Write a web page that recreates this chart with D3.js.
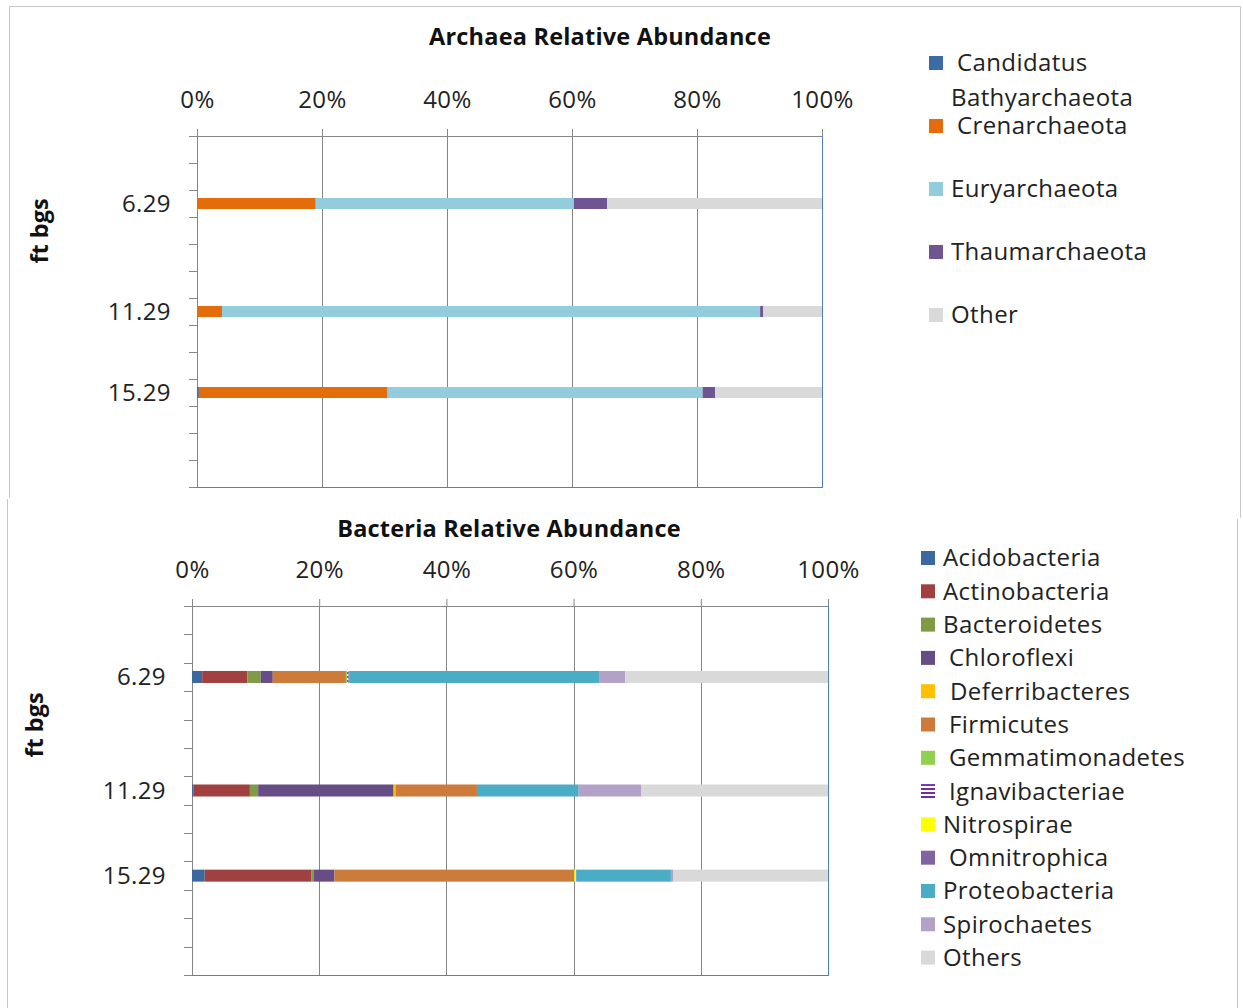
<!DOCTYPE html>
<html><head><meta charset="utf-8">
<script src="https://cdn.jsdelivr.net/npm/d3@7"></script>
<style>body{margin:0;background:#fff}svg{display:block;font-family:"Open Sans",Lato,sans-serif}</style>
</head><body><svg id="c" width="1243" height="1008"></svg>
<script>
// ---------- DATA ----------
const slots = ["s0","s1","6.29","s3","s4","s5","11.29","s7","s8","15.29","s10","s11","s12"];
const depths = ["6.29","11.29","15.29"];
const xTicks = [0, 0.2, 0.4, 0.6, 0.8, 1.0];

const archaeaSeries = ["Candidatus Bathyarchaeota","Crenarchaeota","Euryarchaeota","Thaumarchaeota","Other"];
const archaeaColors = ["#3D6BA6","#E46C0A","#93CDDD","#6F5692","#D9D9D9"];
const archBathy = [0.0, 0.0, 0.3];
const archCren  = [19.0, 4.0, 30.2];
const archEury  = [41.3, 86.1, 50.4];
const archThaum = [5.3, 0.5, 2.0];
const archOther = [34.4, 9.4, 17.1];

const bacteriaSeries = ["Acidobacteria","Actinobacteria","Bacteroidetes","Chloroflexi","Deferribacteres","Firmicutes","Gemmatimonadetes","Ignavibacteriae","Nitrospirae","Omnitrophica","Proteobacteria","Spirochaetes","Others"];
const bacteriaColors = ["#3C68A0","#A04040","#7F9B45","#664D85","#FFC000","#CD7B3A","#92D050","#7030A0","#FFFF00","#8064A2","#4BACC6","#B3A2C7","#D9D9D9"];
const bacAcido  = [1.6, 0.2, 2.0];
const bacActino = [7.1, 8.9, 16.8];
const bacBacter = [2.1, 1.3, 0.3];
const bacChloro = [1.9, 21.3, 3.3];
const bacDeferr = [0.0, 0.3, 0.0];
const bacFirmi  = [11.5, 12.8, 37.7];
const bacGemma  = [0.2, 0.0, 0.0];
const bacIgnavi = [0.2, 0.0, 0.0];
const bacNitro  = [0.0, 0.0, 0.3];
const bacOmni   = [0.1, 0.0, 0.0];
const bacProteo = [39.3, 16.0, 14.9];
const bacSpiro  = [4.1, 9.8, 0.4];
const bacOthers = [31.9, 29.4, 24.3];

const archaeaValues = [archBathy, archCren, archEury, archThaum, archOther];
const bacteriaValues = [bacAcido,bacActino,bacBacter,bacChloro,bacDeferr,bacFirmi,bacGemma,bacIgnavi,bacNitro,bacOmni,bacProteo,bacSpiro,bacOthers];

// ---------- DRAW ----------
const svg = d3.select("#c");
const defs = svg.append("defs");
const pat = defs.append("pattern").attr("id","igna").attr("patternUnits","userSpaceOnUse").attr("width",8).attr("height",4);
pat.append("rect").attr("width",8).attr("height",4).attr("fill","#fff");
pat.append("rect").attr("width",8).attr("height",2).attr("fill","#7030A0");

const FS = 24, LS = 0.4;
const bc = "#c8c8c8";
svg.append("line").attr("x1",9.5).attr("y1",6.5).attr("x2",1240.5).attr("y2",6.5).attr("stroke",bc);
svg.append("line").attr("x1",9.5).attr("y1",6.5).attr("x2",9.5).attr("y2",498).attr("stroke",bc);
svg.append("line").attr("x1",1240.5).attr("y1",6.5).attr("x2",1240.5).attr("y2",518).attr("stroke",bc);
svg.append("line").attr("x1",7.5).attr("y1",499).attr("x2",7.5).attr("y2",1008).attr("stroke",bc);
svg.append("line").attr("x1",1237.5).attr("y1",519).attr("x2",1237.5).attr("y2",1008).attr("stroke",bc);

function panel(cfg){
  const g = svg.append("g");
  const x = d3.scaleLinear().domain([0,1]).range([cfg.x0, cfg.x1]);
  const y = d3.scaleBand().domain(slots).range([cfg.y0, cfg.y1]).paddingInner(0).paddingOuter(0);
  g.selectAll(".grid").data(xTicks.slice(1,-1)).join("line")
    .attr("x1",d=>Math.round(x(d))+0.5).attr("x2",d=>Math.round(x(d))+0.5)
    .attr("y1",cfg.y0).attr("y2",cfg.y1).attr("stroke","#868686").attr("stroke-width",1);
  const xa = d3.axisTop(x).tickValues(xTicks).tickFormat(d3.format(".0%")).tickSize(7).tickSizeOuter(0);
  const ax = g.append("g").attr("transform",`translate(0,${cfg.y0})`).call(xa);
  ax.select(".domain").attr("stroke","#868686");
  ax.selectAll(".tick line").attr("stroke","#868686");
  ax.selectAll("text").attr("font-size",FS).attr("letter-spacing",LS).attr("fill","#222").attr("y",-36).attr("dy","0.35em").attr("font-family","Open Sans");
  g.append("line").attr("x1",cfg.x0-8).attr("x2",cfg.x0).attr("y1",cfg.y0+0.5).attr("y2",cfg.y0+0.5).attr("stroke","#868686");
  g.append("line").attr("x1",x(0)+0.5).attr("x2",x(0)+0.5).attr("y1",cfg.y0).attr("y2",cfg.y1).attr("stroke","#868686");
  const bounds = slots.map(s=>y(s)).concat([cfg.y1]);
  g.selectAll(".yt").data(bounds).join("line")
    .attr("x1",cfg.x0-8).attr("x2",cfg.x0).attr("y1",d=>Math.round(d)+0.5).attr("y2",d=>Math.round(d)+0.5).attr("stroke","#868686");
  g.selectAll(".yl").data(depths).join("text")
    .attr("x",cfg.x0-26).attr("y",d=>y(d)+y.bandwidth()/2).attr("dy","0.35em")
    .attr("text-anchor","end").attr("font-size",FS).attr("letter-spacing",LS).attr("fill","#222").text(d=>d);
  const rows = depths.map((d,i)=>{ let acc=0; return cfg.values.map((arr,k)=>{ const s={depth:d,k,x0:acc/100,x1:(acc+arr[i])/100}; acc+=arr[i]; return s;});}).flat();
  g.selectAll(".bar").data(rows.filter(r=>r.x1>r.x0)).join("rect")
    .attr("x",d=>x(d.x0)).attr("width",d=>x(d.x1)-x(d.x0))
    .attr("y",d=>y(d.depth)+y.bandwidth()/2-cfg.barH/2).attr("height",cfg.barH)
    .attr("fill",d=>cfg.fill(d.k));
  g.append("line").attr("x1",x(1)+0.5).attr("x2",x(1)+0.5).attr("y1",cfg.y0).attr("y2",cfg.y1).attr("stroke","#4F81BD");
  g.append("line").attr("x1",x(0)).attr("x2",x(1)+1).attr("y1",cfg.y1+0.5).attr("y2",cfg.y1+0.5).attr("stroke","#4F81BD");
  g.append("line").attr("x1",cfg.x0-8).attr("x2",cfg.x0).attr("y1",cfg.y1+0.5).attr("y2",cfg.y1+0.5).attr("stroke","#868686");
  g.append("text").attr("x",cfg.titleX).attr("y",cfg.titleY).attr("dy","0.35em").attr("text-anchor","middle")
    .attr("font-size",23.5).attr("letter-spacing",0.2).attr("font-weight","bold").attr("fill","#111").text(cfg.title);
  g.append("text").attr("transform",`translate(${cfg.ytX},${cfg.ytY}) rotate(-90)`).attr("dy","0.35em").attr("text-anchor","middle")
    .attr("font-size",23.5).attr("font-weight","bold").attr("fill","#111").text("ft bgs");
}

panel({x0:197,x1:822,y0:136,y1:487,barH:11,values:archaeaValues,fill:k=>archaeaColors[k],
  title:"Archaea Relative Abundance",titleX:600,titleY:37,ytX:40,ytY:231});
panel({x0:192,x1:828,y0:606,y1:975,barH:12,values:bacteriaValues,fill:k=>k===7?"url(#igna)":bacteriaColors[k],
  title:"Bacteria Relative Abundance",titleX:509,titleY:529,ytX:35,ytY:725});

const aLegY = [63,126,189,252,315];
const al = svg.append("g").attr("font-size",FS).attr("letter-spacing",LS).attr("fill","#222");
archaeaSeries.forEach((s,i)=>{
  al.append("rect").attr("x",929).attr("y",aLegY[i]-7).attr("width",14).attr("height",14).attr("fill",archaeaColors[i]);
  if(i===0){
    al.append("text").attr("x",957).attr("y",aLegY[i]).attr("dy","0.35em").text("Candidatus");
    al.append("text").attr("x",951).attr("y",aLegY[i]+35).attr("dy","0.35em").text("Bathyarchaeota");
  } else {
    al.append("text").attr("x",i===1?957:951).attr("y",aLegY[i]).attr("dy","0.35em").text(s);
  }
});
const bl = svg.append("g").attr("font-size",FS).attr("letter-spacing",LS).attr("fill","#222");
const bShift = [0,0,0,6,7,6,6,6,0,6,0,0,0];
bacteriaSeries.forEach((s,i)=>{
  const yy = 558 + i*33.3;
  bl.append("rect").attr("x",921).attr("y",yy-7).attr("width",14).attr("height",14).attr("fill",i===7?"url(#igna)":bacteriaColors[i]);
  bl.append("text").attr("x",943+bShift[i]).attr("y",yy).attr("dy","0.35em").text(s);
});
</script></body></html>
